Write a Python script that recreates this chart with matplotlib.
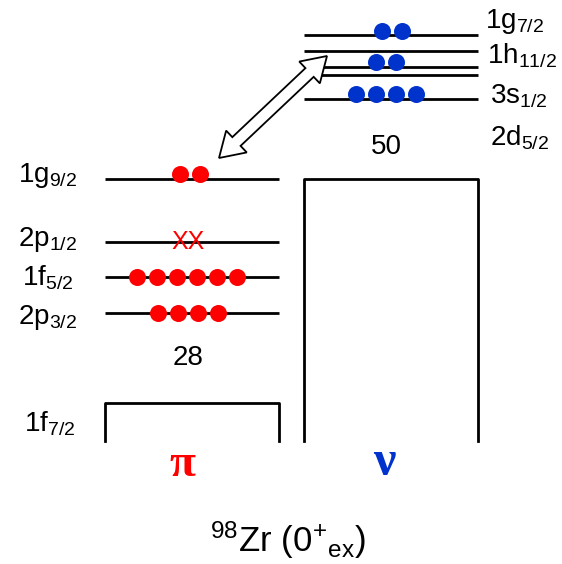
import matplotlib.pyplot as plt
import numpy as np
from matplotlib.patches import Polygon

plt.rcParams['font.family'] = ['Liberation Sans', 'DejaVu Sans']
plt.rcParams['mathtext.fontset'] = 'custom'
plt.rcParams['mathtext.rm'] = 'Liberation Sans'
plt.rcParams['mathtext.it'] = 'Liberation Sans'

RED = '#ff0000'
BLUE = '#0033cc'

# ---- proton side (pi) ----
p_labels = ['1g$_{9/2}$', '2p$_{1/2}$', '1f$_{5/2}$', '2p$_{3/2}$']
p_level_y = [179, 242, 277, 313]
p_label_y = [176, 240, 278, 318]
p_occ = [2, 0, 6, 4]
p_dot_y = [174, 242, 277, 313]
p_dot_x = [190, 0, 187, 188]
p_holes = [0, 2, 0, 0]
p_core_label = '1f$_{7/2}$'
p_magic = '28'

# ---- neutron side (nu) ----
n_level_y = [35, 51, 67, 75, 99]
n_labels = ['1g$_{7/2}$', '1h$_{11/2}$', '3s$_{1/2}$', '2d$_{5/2}$']
n_label_x = [485, 487, 490, 490]
n_label_y = [22, 56, 96, 138]
n_occ_y = [31, 62, 94]
n_occ = [2, 2, 4]
n_dot_x = [392, 386, 386]
n_magic = '50'

DOT_STEP = 20


def double_arrow(p0, p1, shaft=12, head_w=30, head_l=24):
    """polygon for a hollow double-headed block arrow between p0 and p1"""
    p0, p1 = np.array(p0, float), np.array(p1, float)
    d = p1 - p0
    L = np.hypot(*d)
    u = d / L
    n = np.array([-u[1], u[0]])
    a = p0 + u * head_l
    b = p1 - u * head_l
    pts = [p0,
           a + n * head_w / 2, a + n * shaft / 2,
           b + n * shaft / 2, b + n * head_w / 2,
           p1,
           b - n * head_w / 2, b - n * shaft / 2,
           a - n * shaft / 2, a - n * head_w / 2]
    return np.array(pts)


fig = plt.figure(figsize=(5.62, 5.64), dpi=100)
ax = fig.add_axes([0, 0, 1, 1])
ax.set_xlim(0, 562)
ax.set_ylim(564, 0)
ax.axis('off')

lw = 2.0
fs = 20

# proton levels
px0, px1 = 105, 279
for i, y in enumerate(p_level_y):
    ax.plot([px0, px1], [y, y], color='black', lw=lw, solid_capstyle='butt')
    ax.text(48, p_label_y[i], p_labels[i], ha='center', va='center', fontsize=fs)
    if p_occ[i]:
        xs = p_dot_x[i] + DOT_STEP * (np.arange(p_occ[i]) - (p_occ[i] - 1) / 2)
        ax.scatter(xs, [p_dot_y[i]] * p_occ[i], s=150, color=RED, zorder=3, linewidths=0)
    if p_holes[i]:
        ax.text(188, y, 'X' * p_holes[i], color=RED, ha='center', va='center',
                fontsize=18)

# proton core box
ax.plot([px0, px0, px1, px1], [441, 403, 403, 441], color='black', lw=lw)
ax.text(50, 424, p_core_label, ha='center', va='center', fontsize=fs)
ax.text(188, 358, p_magic, ha='center', va='center', fontsize=fs)

# neutron levels
nx0, nx1 = 304, 478
for y in n_level_y:
    ax.plot([nx0, nx1], [y, y], color='black', lw=lw, solid_capstyle='butt')
for i, lab in enumerate(n_labels):
    ax.text(n_label_x[i], n_label_y[i], lab, ha='left', va='center', fontsize=fs)
for i, y in enumerate(n_occ_y):
    xs = n_dot_x[i] + DOT_STEP * (np.arange(n_occ[i]) - (n_occ[i] - 1) / 2)
    ax.scatter(xs, [y] * n_occ[i], s=150, color=BLUE, zorder=3, linewidths=0)

# neutron core box
ax.plot([nx0, nx0, nx1, nx1], [441, 179, 179, 441], color='black', lw=lw)
ax.text(386, 147, n_magic, ha='center', va='center', fontsize=fs)

# excitation arrow
arr = Polygon(double_arrow((219, 158), (327, 56)), closed=True,
              facecolor='white', edgecolor='black', lw=1.3, zorder=4)
ax.add_patch(arr)

# species symbols
ax.text(182, 465, 'π', color=RED, ha='center', va='center', fontsize=34,
        family='Liberation Serif', fontweight='bold')
ax.text(384, 463, 'ν', color=BLUE, ha='center', va='center',
        fontsize=36, family='Liberation Serif', fontweight='bold')

ax.text(210, 540, r'$^{98}$Zr (0$^{+}$$_{\rm ex}$)', ha='left', va='center',
        fontsize=25)

fig.savefig('out.png', dpi=100)
